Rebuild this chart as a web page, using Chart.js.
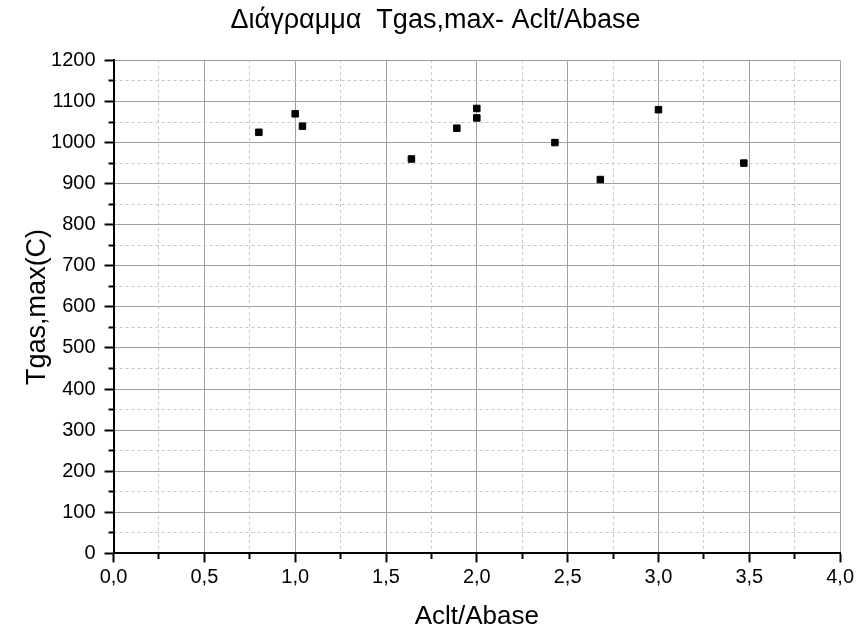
<!DOCTYPE html>
<html>
<head>
<meta charset="utf-8">
<script src="https://cdn.jsdelivr.net/npm/chart.js@4.4.0/dist/chart.umd.min.js"></script>
<style>
  html, body { margin: 0; padding: 0; background: #fff; }
  #wrap { width: 857px; height: 631px; }
</style>
</head>
<body>
<div id="wrap"><canvas id="tgasChart"></canvas></div>
<script>
// values
const ratio = [0.8, 1.0, 1.04, 1.64, 1.89, 2.0, 2.0, 2.43, 2.68, 3.0, 3.47];
const tgasMax = [1025, 1070, 1040, 960, 1035, 1083, 1060, 1000, 910, 1080, 950];

const xMin = 0, xMax = 4, xStep = 0.5;
const yMin = 0, yMax = 1200, yStep = 100;

const points = ratio.map((r, i) => ({ x: r, y: tgasMax[i] }));

const font = "'Liberation Sans', Arial, sans-serif";
const tickLen = 9;

function isMajor(value, step) {
  return Math.abs(value / step - Math.round(value / step)) < 1e-6;
}

const config = {
  type: "scatter",
  data: {
    datasets: [{
      label: "Tgas,max",
      data: points,
      pointStyle: "rect",
      pointRadius: 4.6,
      pointHoverRadius: 4.6,
      backgroundColor: "#000",
      borderColor: "#000",
      borderWidth: 1
    }]
  },
  options: {
    responsive: true,
    maintainAspectRatio: false,
    animation: false,
    layout: { padding: { left: 18, right: 4, top: 0, bottom: 0 } },
    plugins: {
      legend: { display: false },
      tooltip: { enabled: false },
      title: {
        display: true,
        text: "Διάγραμμα  Tgas,max- Aclt/Abase",
        color: "#000",
        font: { family: font, size: 27, weight: "normal" },
        padding: { top: 4, bottom: 24 }
      }
    },
    scales: {
      x: {
        type: "linear",
        position: "bottom",
        min: xMin, max: xMax,
        ticks: {
          stepSize: xStep / 2,
          color: "#000",
          font: { family: font, size: 20 },
          padding: 3,
          maxRotation: 0,
          autoSkip: false,
          callback: v => isMajor(v, xStep) ? v.toFixed(1).replace(".", ",") : ""
        },
        grid: {
          color: c => isMajor(c.tick.value, xStep) ? "#a0a0a0" : "rgba(0,0,0,0)",
          tickColor: "#000",
          tickLength: tickLen,
          tickWidth: 2,
          tickBorderDash: c => isMajor(c.tick.value, xStep) ? [] : [5, 30],
          lineWidth: 1
        },
        border: { color: "#000", width: 2 },
        title: {
          display: true,
          text: "Aclt/Abase",
          color: "#000",
          font: { family: font, size: 26, lineHeight: 1.1 },
          padding: { top: 10, bottom: 0 }
        }
      },
      xMinor: {
        type: "linear",
        position: "top",
        min: xMin, max: xMax,
        ticks: { display: false, stepSize: xStep / 2 },
        grid: {
          drawTicks: false,
          color: c => isMajor(c.tick.value, xStep) ? "rgba(0,0,0,0)" : "#c8c8c8"
        },
        border: { display: false, dash: [3, 3] }
      },
      y: {
        type: "linear",
        position: "left",
        min: yMin, max: yMax,
        ticks: {
          stepSize: yStep / 2,
          color: "#000",
          font: { family: font, size: 20 },
          padding: 9,
          autoSkip: false,
          callback: v => isMajor(v, yStep) ? String(v) : ""
        },
        grid: {
          color: c => isMajor(c.tick.value, yStep) ? "#a0a0a0" : "rgba(0,0,0,0)",
          tickColor: "#000",
          tickLength: tickLen,
          tickWidth: 2,
          tickBorderDash: c => isMajor(c.tick.value, yStep) ? [] : [0, tickLen - 5, 5, 30],
          lineWidth: 1
        },
        border: { color: "#000", width: 2 },
        title: {
          display: true,
          text: "Tgas,max(C)",
          color: "#000",
          font: { family: font, size: 27, lineHeight: 1.15 },
          padding: { top: 4, bottom: -11 }
        }
      },
      yMinor: {
        type: "linear",
        position: "right",
        min: yMin, max: yMax,
        ticks: { display: false, stepSize: yStep / 2 },
        grid: {
          drawTicks: false,
          color: c => isMajor(c.tick.value, yStep) ? "rgba(0,0,0,0)" : "#c8c8c8"
        },
        border: { display: false, dash: [3, 3] }
      }
    }
  }
};

const tgasChart = new Chart(document.getElementById("tgasChart"), config);
</script>
</body>
</html>
